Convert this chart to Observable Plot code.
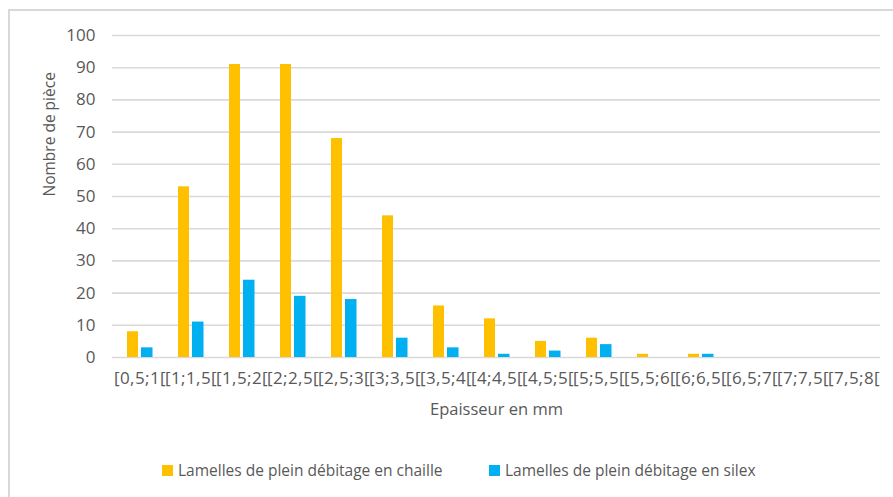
<!DOCTYPE html>
<html>
<head>
<meta charset="utf-8">
<script src="https://cdn.jsdelivr.net/npm/d3@7"></script>
<script src="https://cdn.jsdelivr.net/npm/@observablehq/plot@0.6"></script>
<style>
  html, body { margin: 0; padding: 0; background: #fff; }
  body { width: 893px; height: 497px; overflow: hidden; position: relative; font-family: "Open Sans", sans-serif; }
  #frame { position: absolute; left: 8px; top: 9px; width: 900px; height: 500px; border: 2px solid #d9d9d9; box-sizing: border-box; }
  #chart { position: absolute; left: 0; top: 0; }
  #chart g[aria-label="x-axis tick label"] text { letter-spacing: 0.4px; }
  #legend { position: absolute; left: 0; top: 459px; width: 893px; height: 22px; font-size: 15.5px; color: #595959; }
  .item { position: absolute; top: 0; height: 22px; display: flex; align-items: center; white-space: nowrap; }
  .sw { width: 11px; height: 11px; margin-right: 5px; }
</style>
</head>
<body>
<div id="frame"></div>
<div id="chart"></div>
<div id="legend"></div>
<script>
const categories = ["[0,5;1[", "[1;1,5[", "[1,5;2[", "[2;2,5[", "[2,5;3[", "[3;3,5[", "[3,5;4[", "[4;4,5[", "[4,5;5[", "[5;5,5[", "[5,5;6[", "[6;6,5[", "[6,5;7[", "[7;7,5[", "[7,5;8["];
const chaille = [8, 53, 91, 91, 68, 44, 16, 12, 5, 6, 1, 1, 0, 0, 0];
const silex = [3, 11, 24, 19, 18, 6, 3, 1, 2, 4, 0, 1, 0, 0, 0];
const seriesNames = ["Lamelles de plein débitage en chaille", "Lamelles de plein débitage en silex"];
const seriesColors = ["#FFC000", "#00B0F0"];
const yTicks = [0, 10, 20, 30, 40, 50, 60, 70, 80, 90, 100];
const xTitle = "Epaisseur en mm";
const yTitle = "Nombre de pièce";

const rowsChaille = categories.map((c, i) => ({cat: c, value: chaille[i]}));
const rowsSilex = categories.map((c, i) => ({cat: c, value: silex[i]}));

const textColor = "#595959";
const chart = Plot.plot({
  width: 893,
  height: 445,
  marginLeft: 112,
  marginRight: 13,
  marginTop: 35,
  marginBottom: 88,
  style: {fontFamily: "Open Sans, sans-serif", color: textColor, background: "transparent"},
  x: {type: "band", domain: categories, padding: 0, label: null},
  y: {domain: [0, 100], label: null},
  marks: [
    Plot.ruleY(yTicks, {stroke: "#d9d9d9", strokeWidth: 1.6}),
    Plot.barY(rowsChaille, {x: "cat", y: "value", fill: seriesColors[0], insetLeft: 13, insetRight: 27}),
    Plot.barY(rowsSilex, {x: "cat", y: "value", fill: seriesColors[1], insetLeft: 27, insetRight: 12.5}),
    Plot.axisY(yTicks, {tickSize: 0, tickPadding: 17, fontSize: 17, fill: textColor, label: null}),
    Plot.axisX({tickSize: 0, tickPadding: 14, fontSize: 17, fill: textColor, label: null}),
    Plot.text([xTitle], {frameAnchor: "bottom", dy: 57, fontSize: 16.5, fill: textColor}),
    Plot.text([yTitle], {frameAnchor: "left", dx: -62, rotate: -90, fontSize: 15.5, fill: textColor})
  ]
});
document.getElementById("chart").appendChild(chart);

const legend = document.getElementById("legend");
const lefts = [162, 489];
seriesNames.forEach((name, i) => {
  const item = document.createElement("div");
  item.className = "item";
  item.style.left = lefts[i] + "px";
  const sw = document.createElement("span");
  sw.className = "sw";
  sw.style.background = seriesColors[i];
  const t = document.createElement("span");
  t.textContent = name;
  item.appendChild(sw);
  item.appendChild(t);
  legend.appendChild(item);
});
</script>
</body>
</html>
